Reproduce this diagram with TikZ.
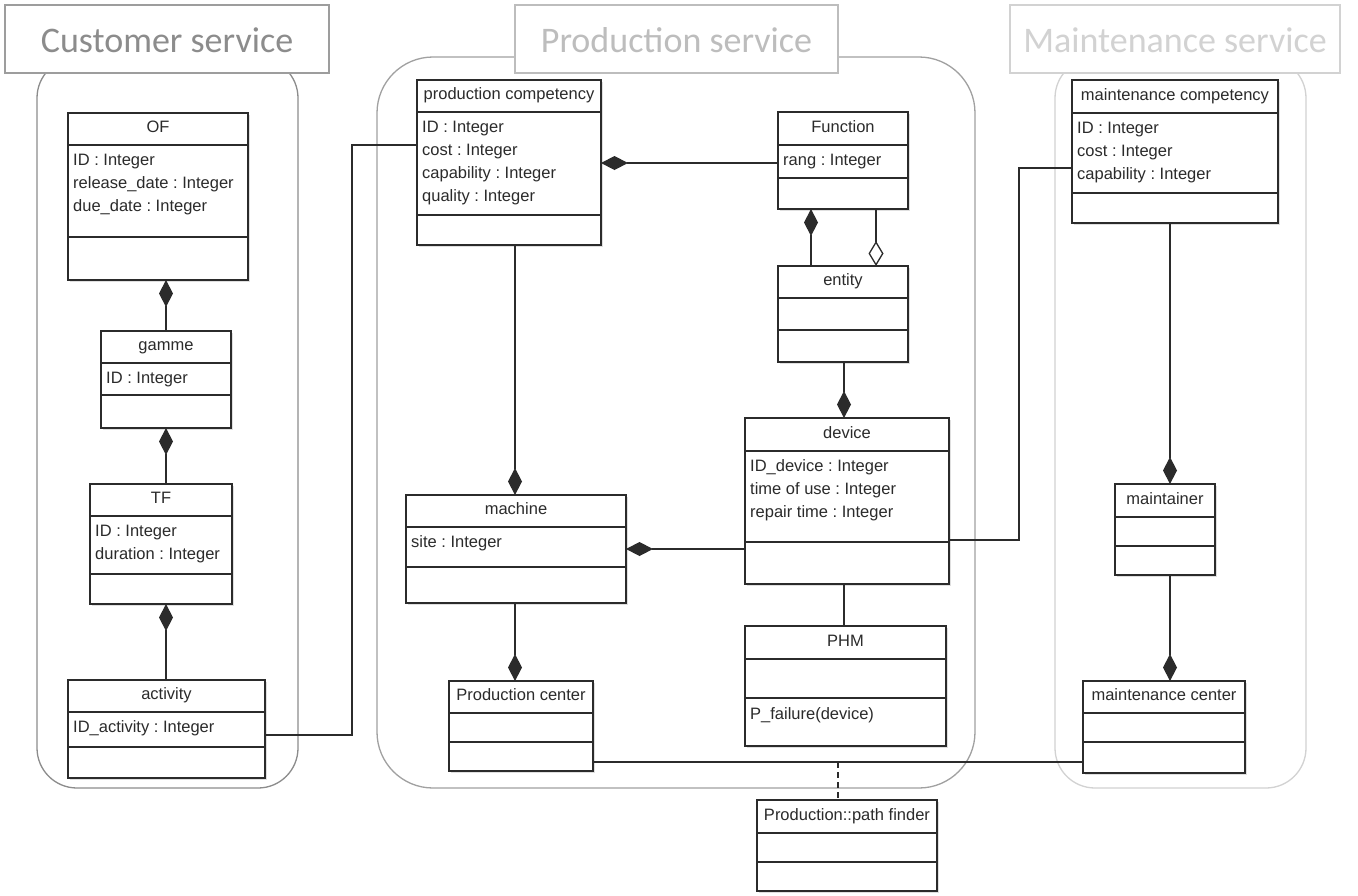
\documentclass[tikz,border=0pt]{standalone}
\usepackage{fontspec}
\setmainfont{Liberation Sans}
\newfontfamily\titlefont{Carlito}
\usetikzlibrary{arrows.meta,shadows}
\frenchspacing
\definecolor{ink}{HTML}{2B2B2B}
\definecolor{custgray}{HTML}{8C8C8C}
\definecolor{prodgray}{HTML}{BDBDBD}
\definecolor{maintgray}{HTML}{D2D2D2}
\tikzset{
  classbox/.style={draw=ink, line width=1.4pt, fill=white, inner sep=0pt, outer sep=0pt,
    drop shadow={shadow xshift=1.5pt, shadow yshift=-1.5pt, opacity=0.25, fill=gray}},
  classline/.style={draw=ink, line width=1.2pt},
  classtitle/.style={anchor=base, inner sep=0pt, text=ink, font=\frenchspacing\fontsize{16.5}{20}\selectfont},
  attrtext/.style={anchor=base west, inner sep=0pt, text=ink, font=\frenchspacing\fontsize{16.5}{20}\selectfont},
  conn/.style={draw=ink, line width=1.3pt},
  comp/.style={conn, -{Diamond[length=27pt,width=14pt]}},
  aggr/.style={conn, -{Diamond[open,length=25pt,width=15pt,fill=white]}},
  dashconn/.style={conn, dashed, dash pattern=on 6pt off 4pt},
  titlebox/.style={fill=white, line width=1.3pt},
  titletext/.style={anchor=base, inner sep=0pt, font=\titlefont\fontsize{36}{40}\selectfont},
  container/.style={line width=1.3pt},
}
% name x1 y1 x2 y2 sep1 sep2 title attrs
\newcommand\umlclass[9]{%
  \node[classbox, minimum width={#4-#2}, minimum height={#5-#3}] (#1) at ({(#2+#4)/2},{(#3+#5)/2}) {};
  \draw[classline] (#2,#6) -- (#4,#6) (#2,#7) -- (#4,#7);
  \node[classtitle] (#1-t) at ({(#2+#4)/2},{#6-13}) {#8};
  \if\relax\detokenize{#9}\relax\else
    \foreach \a [count=\i] in {#9} {\node[attrtext] (#1-a\i) at ({#2+5},{#6+20+23*(\i-1)}) {\a};}
  \fi
}
\begin{document}
\begin{tikzpicture}[x=1pt,y=-1pt]
\useasboundingbox (0,0) rectangle (1358,895);
\fill[white] (0,0) rectangle (1358,895);

% containers
\draw[container, draw=custgray, rounded corners=40pt] (37,58) rectangle (298,788);
\draw[container, draw=prodgray!85!black, rounded corners=56pt] (377,57) rectangle (975,788);
\draw[container, draw=maintgray, rounded corners=40pt] (1055,58) rectangle (1306,788);

% title boxes
\node[titlebox, draw=custgray!85!white, minimum width=324pt, minimum height=68pt, inner sep=0pt] (tcust) at (167,39) {};
\node[titletext, text=custgray] (tcust-t) at (167,52) {Customer service};
\node[titlebox, draw=prodgray, minimum width=323pt, minimum height=68pt, inner sep=0pt] (tprod) at (676.5,39) {};
\node[titletext, text=prodgray] (tprod-t) at (676.5,52) {Production service};
\node[titlebox, draw=maintgray, minimum width=330pt, minimum height=68pt, inner sep=0pt] (tmaint) at (1175,39) {};
\node[titletext, text=maintgray] (tmaint-t) at (1175,52) {Maintenance service};

% customer classes
\umlclass{OF}{68}{113}{248}{280}{145}{237}{OF}{ID : Integer, release\_date : Integer, due\_date : Integer}
\umlclass{gamme}{101}{331}{231}{428}{363}{395}{gamme}{ID : Integer}
\umlclass{TF}{90}{484}{232}{604}{516}{574}{TF}{ID : Integer, duration : Integer}
\umlclass{activity}{68}{680}{265}{778}{712}{747}{activity}{ID\_activity : Integer}

% production classes
\umlclass{pc}{417}{80}{601}{245}{112}{215}{production competency}{ID : Integer, cost : Integer, capability : Integer, quality : Integer}
\umlclass{Function}{778}{112}{908}{209}{145}{178}{Function}{rang : Integer}
\umlclass{entity}{778}{266}{908}{362}{298}{330}{entity}{}
\umlclass{device}{745}{418}{949}{584}{451}{542}{device}{ID\_device : Integer, time of use : Integer, repair time : Integer}
\umlclass{machine}{406}{495}{626}{603}{527}{567}{machine}{site : Integer}
\umlclass{PHM}{745}{626}{946}{746}{659}{698}{PHM}{}
\node[attrtext] (PHM-o1) at (750,719) {P\_failure(device)};
\umlclass{pcenter}{449}{681}{593}{771}{713}{742}{Production center}{}
\umlclass{pathfinder}{757}{800}{937}{891}{833}{862}{Production::path finder}{}

% maintenance classes
\umlclass{mcomp}{1072}{80}{1278}{223}{113}{193}{maintenance competency}{ID : Integer, cost : Integer, capability : Integer}
\umlclass{maintainer}{1115}{484}{1215}{575}{517}{546}{maintainer}{}
\umlclass{mcenter}{1083}{681}{1245}{773}{713}{742}{maintenance center}{}

% customer connectors
\draw[comp] (gamme.north -| 166,0) -- (OF.south -| 166,0);
\draw[comp] (TF.north -| 166,0) -- (gamme.south -| 166,0);
\draw[comp] (activity.north -| 166,0) -- (TF.south -| 166,0);
\draw[conn] (activity.east |- 0,735) -- (352,735) |- (pc.west |- 0,145);

% production connectors
\draw[comp] (Function.west |- 0,163) -- (pc.east |- 0,163);
\draw[comp] (entity.north -| 811,0) -- (Function.south -| 811,0);
\draw[aggr] (Function.south -| 876,0) -- (entity.north -| 876,0);
\draw[comp] (entity.south -| 844,0) -- (device.north -| 844,0);
\draw[comp] (pc.south -| 515,0) -- (machine.north -| 515,0);
\draw[comp] (device.west |- machine.east) -- (machine.east);
\draw[comp] (machine.south -| 515,0) -- (pcenter.north -| 515,0);
\draw[conn] (device.south -| 844,0) -- (PHM.north -| 844,0);
\draw[conn] (device.east |- 0,540) -- (1019,540) |- (mcomp.west |- 0,168);

% maintenance connectors
\draw[comp] (mcomp.south -| 1170,0) -- (maintainer.north -| 1170,0);
\draw[comp] (maintainer.south -| 1170,0) -- (mcenter.north -| 1170,0);

% cross-service association
\draw[conn] (pcenter.east |- 0,762) -- (mcenter.west |- 0,762);
\coordinate (dj) at (838,762);
\draw[dashconn] (dj) -- (pathfinder.north -| dj);
\end{tikzpicture}
\end{document}
